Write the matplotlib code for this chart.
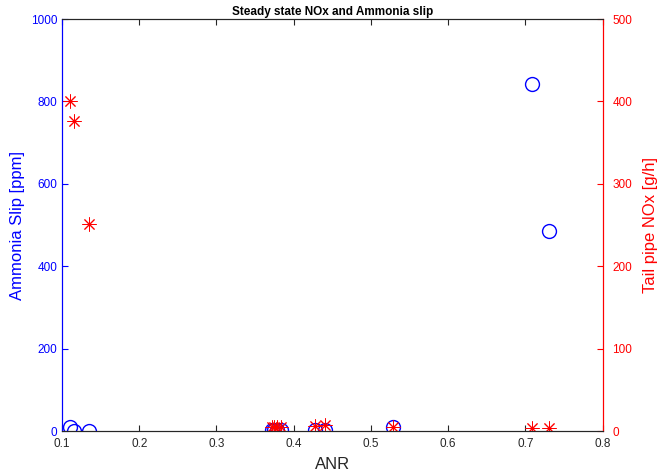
import matplotlib
matplotlib.use("Agg")
import matplotlib.pyplot as plt

plt.rcParams['font.family'] = ['Liberation Sans', 'DejaVu Sans']

# steady state points
anr = [0.111, 0.115, 0.135, 0.372, 0.375, 0.378, 0.383, 0.427, 0.441, 0.528, 0.708, 0.730]
nh3_slip = [10, 0, 0, 2, 2, 2, 2, 2, 2, 10, 842, 485]
nox = [400, 376, 251, 5, 5, 5, 5, 6, 7, 5, 4, 4]

xticks = [0.1, 0.2, 0.3, 0.4, 0.5, 0.6, 0.7, 0.8]
left_ticks = [0, 200, 400, 600, 800, 1000]
right_ticks = [0, 100, 200, 300, 400, 500]

blue = (0, 0, 1)
red = (1, 0, 0)
dark = (0.15, 0.15, 0.15)

fig = plt.figure(figsize=(6.61, 4.76), dpi=100)
ax = fig.add_axes([0.0938, 0.0945, 0.818, 0.8655])
ax2 = ax.twinx()

ax.plot(anr, nh3_slip, 'o', color=blue, mfc='none', ms=10, mew=1.0)
# matlab-like '*' : 8 spoke asterisk
ax2.plot(anr, nox, marker=(8, 2, 0), ls='none', color=red, ms=10, mew=0.7)

ax.set_xlim(0.1, 0.8)
ax.set_ylim(0, 1000)
ax2.set_ylim(0, 500)
ax.set_xticks(xticks)
ax.set_xticklabels([f"{t:g}" for t in xticks])
ax.set_yticks(left_ticks)
ax2.set_yticks(right_ticks)

ax.tick_params(axis='x', direction='in', colors=dark, labelsize=8.5, top=True, length=4, pad=5)
ax.tick_params(axis='y', direction='in', colors=blue, labelsize=8.5, length=4, pad=3.5)
ax2.tick_params(axis='y', direction='in', colors=red, labelsize=8.5, length=4, pad=7)

for a in (ax, ax2):
    a.spines['bottom'].set_color(dark)
    a.spines['top'].set_color(dark)
    a.spines['left'].set_color(blue)
    a.spines['right'].set_color(red)
    for s in a.spines.values():
        s.set_linewidth(0.8)

ax.set_xlabel('ANR', fontsize=12, color=dark, labelpad=5)
ax.set_ylabel('Ammonia Slip [ppm]', fontsize=12, color=blue, labelpad=4)
ax2.set_ylabel('Tail pipe NOx [g/h]', fontsize=12, color=red, labelpad=8)
ax.set_title('Steady state NOx and Ammonia slip', fontsize=8.5, fontweight='bold', pad=3)

fig.savefig('out.png', dpi=100)
